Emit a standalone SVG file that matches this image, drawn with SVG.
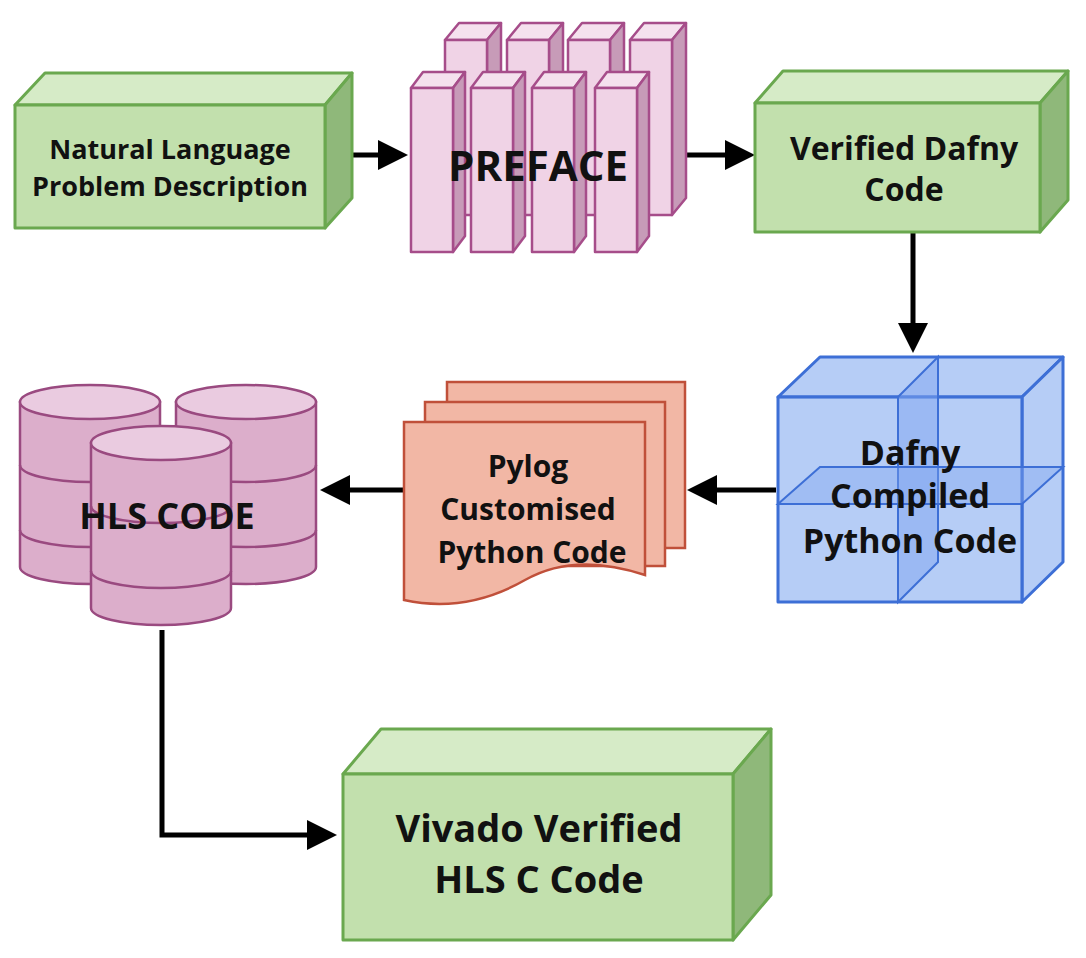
<svg xmlns="http://www.w3.org/2000/svg" width="1086" height="958" viewBox="0 0 1086 958">
<style>
.t{font-family:"Open Sans","Liberation Sans",sans-serif;font-weight:700;fill:#111;text-anchor:middle}
.gf{fill:#c2e0ad;stroke:#6aa84f;stroke-width:3;stroke-linejoin:round}
.gt{fill:#d6ebc7;stroke:#6aa84f;stroke-width:3;stroke-linejoin:round}
.gs{fill:#8fb87a;stroke:#6aa84f;stroke-width:3;stroke-linejoin:round}
.pf{fill:#f0d3e6;stroke:#a64d8a;stroke-width:2.5;stroke-linejoin:round}
.pt{fill:#f5e1ee;stroke:#a64d8a;stroke-width:2.5;stroke-linejoin:round}
.ps{fill:#c79bb8;stroke:#a64d8a;stroke-width:2.5;stroke-linejoin:round}
.cf{fill:#dcaecb;stroke:#9a4a80;stroke-width:2.5}
.ct{fill:#eacbe0;stroke:#9a4a80;stroke-width:2.5}
.bf{fill:#a9c4f5;fill-opacity:.85;stroke:#3d6fd6;stroke-width:3;stroke-linejoin:round}
.rd{fill:#f2b7a5;stroke:#c0503a;stroke-width:2.5}
.ar{fill:none;stroke:#000;stroke-width:5}
</style>
<defs>
<marker id="ah" markerWidth="6" markerHeight="6" refX="3" refY="3" orient="auto" markerUnits="strokeWidth"><path d="M0,0L6,3L0,6Z" fill="#000"/></marker>
<g id="pil">
<polygon class="pt" points="0,0 12,-16 54,-16 42,0"/>
<polygon class="ps" points="42,0 54,-16 54,148 42,164"/>
<rect class="pf" x="0" y="0" width="42" height="164"/>
</g>
<g id="bpil">
<polygon class="pt" points="0,0 14,-17 56,-17 42,0"/>
<polygon class="ps" points="42,0 56,-17 56,158 42,175"/>
<rect class="pf" x="0" y="0" width="42" height="175"/>
</g>
<g id="cyl">
<path class="cf" d="M0,0 V165 A70,17 0 0 0 140,165 V0 Z"/>
<path d="M0,63 A70,17 0 0 0 140,63 M0,128 A70,17 0 0 0 140,128" fill="none" stroke="#9a4a80" stroke-width="2.5"/>
<ellipse class="ct" cx="70" cy="0" rx="70" ry="17"/>
</g>
</defs>
<rect width="1086" height="958" fill="#fff"/>

<g id="connectors">
<line class="ar" x1="330" y1="155" x2="393" y2="155" marker-end="url(#ah)"/>
<line class="ar" x1="678" y1="155" x2="740" y2="155" marker-end="url(#ah)"/>
<line class="ar" x1="913" y1="232" x2="913" y2="338" marker-end="url(#ah)"/>
<line class="ar" x1="776" y1="490" x2="702" y2="490" marker-end="url(#ah)"/>
<line class="ar" x1="403" y1="490" x2="335" y2="490" marker-end="url(#ah)"/>
<polyline class="ar" points="162,630 162,835 322,835" marker-end="url(#ah)"/>
</g>

<g id="nl">
<polygon class="gt" points="15,105 45,73 352,73 325,105"/>
<polygon class="gs" points="325,105 352,73 352,198 325,228"/>
<rect class="gf" x="15" y="105" width="310" height="123"/>
<text class="t" x="170" y="159" font-size="27">Natural Language</text>
<text class="t" x="170" y="196" font-size="27">Problem Description</text>
</g>

<g id="preface">
<use href="#bpil" x="445" y="40"/>
<use href="#bpil" x="507" y="40"/>
<use href="#bpil" x="568" y="40"/>
<use href="#bpil" x="630" y="40"/>
<use href="#pil" x="411" y="88"/>
<use href="#pil" x="471" y="88"/>
<use href="#pil" x="532" y="88"/>
<use href="#pil" x="595" y="88"/>
<text class="t" x="538" y="181" font-size="42">PREFACE</text>
</g>

<g id="dafny">
<polygon class="gt" points="755,103 783,71 1068,71 1040,103"/>
<polygon class="gs" points="1040,103 1068,71 1068,200 1040,232"/>
<rect class="gf" x="755" y="103" width="285" height="129"/>
<text class="t" x="904" y="160" font-size="32">Verified Dafny</text>
<text class="t" x="904" y="201" font-size="32">Code</text>
</g>

<g id="compiled">
<polygon class="bf" points="778,397 820,357 1063,357 1022,397"/>
<polygon class="bf" points="1022,397 1063,357 1063,562 1022,602"/>
<rect class="bf" x="778" y="397" width="244" height="205"/>
<polygon fill="#7fa6ef" fill-opacity=".5" stroke="#3d6fd6" stroke-width="2" points="898,397 938,357 938,562 898,602"/>
<polygon fill="#7fa6ef" fill-opacity=".4" stroke="#3d6fd6" stroke-width="2" points="778,504 820,467 1063,467 1022,504"/>
<text class="t" x="910" y="465" font-size="34">Dafny</text>
<text class="t" x="910" y="508" font-size="34">Compiled</text>
<text class="t" x="910" y="553" font-size="34">Python Code</text>
</g>

<g id="pylog">
<rect class="rd" x="447" y="382" width="238" height="166"/>
<rect class="rd" x="425" y="402" width="240" height="164"/>
<path class="rd" d="M404,422 H645 V575 C600,560 560,560 525,580 C490,600 450,610 404,600 Z"/>
<text class="t" x="528" y="477" font-size="30">Pylog</text>
<text class="t" x="528" y="520" font-size="30">Customised</text>
<text class="t" x="532" y="563" font-size="30">Python Code</text>
</g>

<g id="hls">
<use href="#cyl" x="20" y="402"/>
<use href="#cyl" x="176" y="402"/>
<use href="#cyl" x="91" y="443"/>
<text class="t" x="167" y="529" font-size="36">HLS CODE</text>
</g>

<g id="vivado">
<polygon class="gt" points="343,774 381,729 771,729 733,774"/>
<polygon class="gs" points="733,774 771,729 771,895 733,940"/>
<rect class="gf" x="343" y="774" width="390" height="166"/>
<text class="t" x="539" y="842" font-size="38">Vivado Verified</text>
<text class="t" x="539" y="893" font-size="38">HLS C Code</text>
</g>
</svg>
